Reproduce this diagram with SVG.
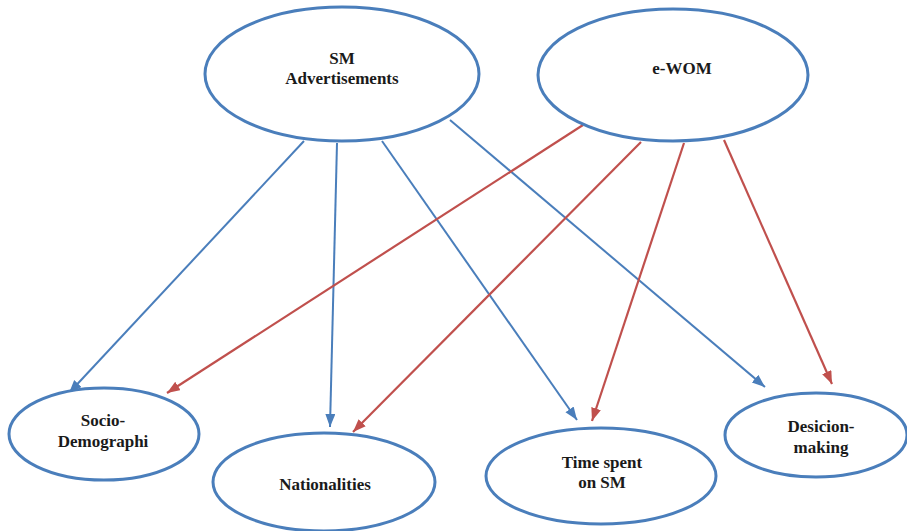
<svg xmlns="http://www.w3.org/2000/svg" width="907" height="531" viewBox="0 0 907 531">
  <style>
    .node ellipse { fill: #ffffff; stroke: #4a7ebb; stroke-width: 3; }
    .node text { font-family: "Liberation Serif", "Times New Roman", serif; font-weight: bold; font-size: 17px; fill: #1a1a1a; text-anchor: middle; }
    .blue { stroke: #4a7ebb; stroke-width: 2; fill: none; marker-end: url(#headBlue); }
    .red { stroke: #c0504d; stroke-width: 2.2; fill: none; marker-end: url(#headRed); }
  </style>
  <defs>
    <marker id="headBlue" markerUnits="userSpaceOnUse" markerWidth="14" markerHeight="12" refX="13" refY="5" orient="auto">
      <path d="M0,0 L13,5 L0,10 Z" fill="#4a7ebb"/>
    </marker>
    <marker id="headRed" markerUnits="userSpaceOnUse" markerWidth="14" markerHeight="12" refX="13" refY="5" orient="auto">
      <path d="M0,0 L13,5 L0,10 Z" fill="#c0504d"/>
    </marker>
  </defs>
  <rect width="907" height="531" fill="#ffffff"/>

  <g id="connectors">
    <!-- from SM Advertisements -->
    <line class="blue" x1="304" y1="141" x2="69" y2="393"/>
    <line class="blue" x1="337" y1="143" x2="330" y2="427"/>
    <line class="blue" x1="382" y1="141" x2="577" y2="420"/>
    <line class="blue" x1="450" y1="120" x2="765" y2="387"/>
    <!-- from e-WOM -->
    <line class="red" x1="583" y1="125" x2="167" y2="393"/>
    <line class="red" x1="641" y1="142" x2="353" y2="432"/>
    <line class="red" x1="684" y1="143" x2="592" y2="421"/>
    <line class="red" x1="724" y1="140" x2="832" y2="384"/>
  </g>

  <g id="sm-advertisements" class="node">
    <ellipse cx="342" cy="74" rx="137" ry="67"/>
    <text x="342" y="64">SM</text>
    <text x="342" y="84">Advertisements</text>
  </g>

  <g id="e-wom" class="node">
    <ellipse cx="673" cy="75" rx="135" ry="66"/>
    <text x="682" y="74">e-WOM</text>
  </g>

  <g id="socio-demographi" class="node">
    <ellipse cx="104" cy="434" rx="95" ry="46"/>
    <text x="103" y="426">Socio-</text>
    <text x="103" y="447">Demographi</text>
  </g>

  <g id="nationalities" class="node">
    <ellipse cx="324" cy="482" rx="111" ry="49"/>
    <text x="325" y="490">Nationalities</text>
  </g>

  <g id="time-spent" class="node">
    <ellipse cx="601" cy="476" rx="115" ry="48"/>
    <text x="602" y="468">Time spent</text>
    <text x="602" y="488">on SM</text>
  </g>

  <g id="decision-making" class="node">
    <ellipse cx="816" cy="435" rx="91" ry="42"/>
    <text x="821" y="432">Desicion-</text>
    <text x="821" y="453">making</text>
  </g>
</svg>
